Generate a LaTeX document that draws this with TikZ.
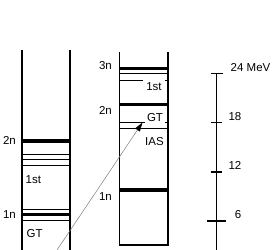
\documentclass[tikz,border=0pt]{standalone}
\usepackage{fontspec}
\setmainfont{Liberation Sans}
\usetikzlibrary{calc, arrows.meta}
\definecolor{trans}{RGB}{125, 125, 125}

\begin{document}
\begin{tikzpicture}[x=1pt, y=-1pt,
    wall/.style={line width=1.3pt},
    band/.style={line width=3.6pt},
    lvl/.style={line width=0.9pt},
    tag/.style={font=\fontsize{11.5}{13}\selectfont, inner sep=1pt}]
  \useasboundingbox (0,0) rectangle (277,250);
  \draw[wall] (22,50) -- (22,250) (70,50) -- (70,250);
  \foreach \y in {141,214.5} \draw[band] (22,\y) -- (70,\y);
  \foreach \y in {154,159.5,165.5,209.5,220} \draw[lvl] (22,\y) -- (70,\y);
  \node[tag, anchor=east] (ltwo) at (17,140.5) {2n};
  \node[tag, anchor=east] (lone) at (17,214.5) {1n};
  \node[tag, anchor=west] (lfirst) at (24.5,179.5) {1st};
  \node[tag, anchor=west] (lgt) at (25.5,233.5) {GT};
  \draw[wall] (119.5,52) -- (119.5,245) -- (168,245) -- (168,52);
  \foreach \y in {68.5,104.5,190} \draw[band] (119.5,\y) -- (168,\y);
  \foreach \y in {73.3,80.3,122.5,128.5} \draw[lvl] (119.5,\y) -- (168,\y);
  \node[tag, anchor=east] (mthree) at (113,66) {3n};
  \node[tag, anchor=east] (mtwo) at (113,110) {2n};
  \node[tag, anchor=east] (mone) at (113,196.5) {1n};
  \node[tag, fill=white, inner xsep=3pt, inner ysep=2.2pt] (mfirst) at (154,86.5) {1st};
  \node[tag, fill=white, inner xsep=2.5pt, inner ysep=2.6pt] (mgt) at (155,117.5) {GT};
  \node[tag] (mias) at (154.5,141.5) {IAS};
  \coordinate (gs) at (57,250);
  \coordinate (gtlvl) at (142.5,122.5);
  \draw[trans, line width=0.5pt, -{Triangle[length=9pt,width=5.5pt,black]}] (gs) -- (gtlvl);
  \draw[wall] (216.5,73.5) -- (216.5,250);
  \draw[wall] (211,73.5) -- (222.7,73.5);
  \node[tag, anchor=west] (e24) at (229.5,68) {24 MeV};
  \foreach \lbl/\y/\w in {18/122.7/5.8, 12/172/5.8, 6/221/9.3}{
    \draw[wall] (216.5-\w,\y) -- (216.5+\w,\y);
    \node[tag, anchor=east] (e\lbl) at (242.5,\y-6.5) {\lbl};
  }
\end{tikzpicture}
\end{document}
